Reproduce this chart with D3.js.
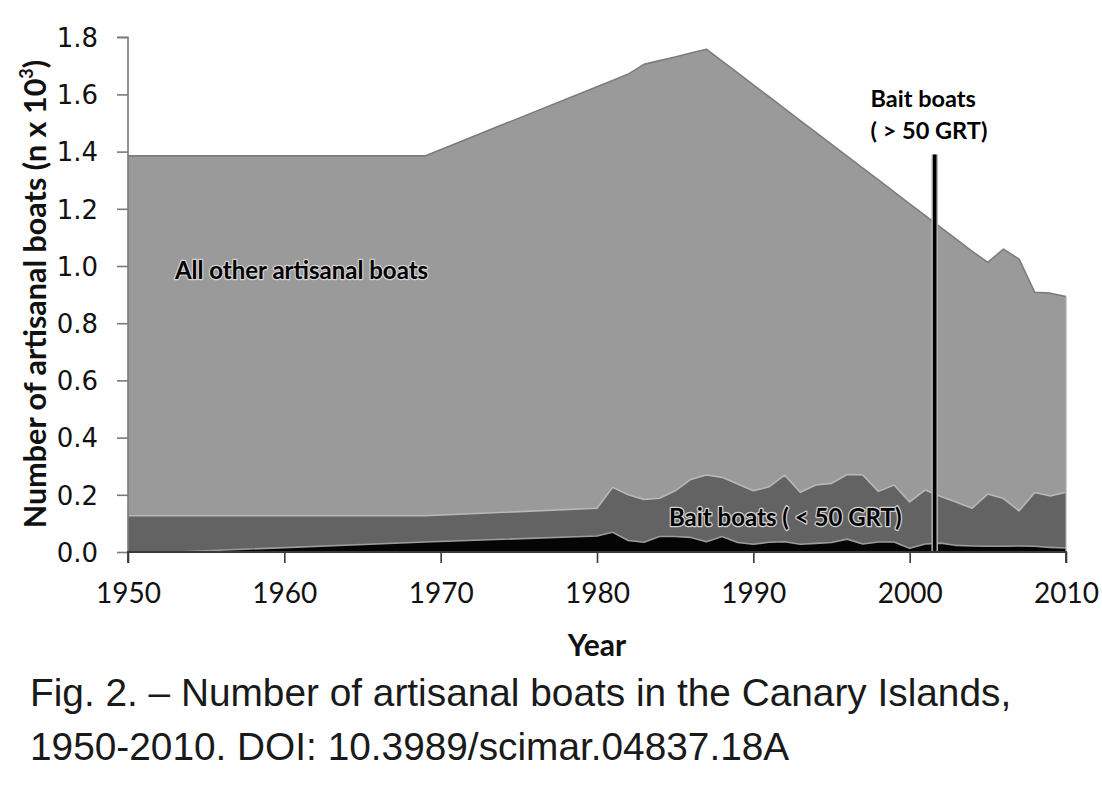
<!DOCTYPE html>
<html>
<head>
<meta charset="utf-8">
<script src="https://cdn.jsdelivr.net/npm/d3@7"></script>
<style>
  html, body { margin: 0; padding: 0; background: #fff; }
  svg { display: block; }
</style>
</head>
<body>
<svg id="chart" width="1102" height="810"></svg>
<script>
// ---------------- DATA ----------------
const years = [1950, 1953, 1969, 1980, 1981, 1982, 1983, 1984, 1985, 1986, 1987, 1988, 1989,
  1990, 1991, 1992, 1993, 1994, 1995, 1996, 1997, 1998, 1999, 2000, 2001, 2002, 2003, 2004,
  2005, 2006, 2007, 2008, 2009, 2010];
// Bait boats (> 50 GRT), n x 10^3
const baitLarge = [0, 0, 0.035, 0.056, 0.069, 0.040, 0.034, 0.054, 0.054, 0.051, 0.036, 0.054, 0.033,
  0.027, 0.034, 0.036, 0.027, 0.030, 0.033, 0.045, 0.028, 0.035, 0.035, 0.013, 0.028, 0.031, 0.023, 0.021,
  0.020, 0.020, 0.021, 0.020, 0.016, 0.014];
// Bait boats (< 50 GRT)
const baitSmall = [0.127, 0.127, 0.092, 0.097, 0.157, 0.160, 0.150, 0.134, 0.160, 0.203, 0.233, 0.207, 0.205,
  0.187, 0.194, 0.233, 0.182, 0.204, 0.207, 0.226, 0.241, 0.177, 0.199, 0.162, 0.189, 0.163, 0.151, 0.132,
  0.183, 0.167, 0.123, 0.188, 0.180, 0.195];
// All other artisanal boats
const otherBoats = [1.258, 1.258, 1.258, 1.474, 1.423, 1.471, 1.521, 1.530, 1.517, 1.491, 1.489, 1.455, 1.437,
  1.419, 1.364, 1.281, 1.299, 1.233, 1.185, 1.113, 1.073, 1.089, 1.025, 1.042, 0.959, 0.940, 0.919, 0.898,
  0.810, 0.872, 0.880, 0.700, 0.709, 0.684];
// isolated spike of bait boats (> 50 GRT)
const spikeYear = [2001.6];
const spikeValue = [1.39];

const xTicks = [1950, 1960, 1970, 1980, 1990, 2000, 2010];
const yTicks = [0, 0.2, 0.4, 0.6, 0.8, 1.0, 1.2, 1.4, 1.6, 1.8];
const seriesKeys = ["baitLarge", "baitSmall", "otherBoats"];
const seriesNames = ["( > 50 GRT)", "Bait boats ( < 50 GRT)", "All other artisanal boats"];

// ---------------- CHART ----------------
const svg = d3.select("#chart");
const x = d3.scaleLinear().domain([1950, 2010]).range([128, 1066]);
const y = d3.scaleLinear().domain([0, 1.8]).range([552, 37.2]);

const table = years.map((yr, i) => ({
  year: yr, baitLarge: baitLarge[i], baitSmall: baitSmall[i], otherBoats: otherBoats[i]
}));
const stacked = d3.stack().keys(seriesKeys)(table);

const fills = { baitLarge: "#050505", baitSmall: "#636363", otherBoats: "#9a9a9a" };
const edges = { baitLarge: "#9c9c9c", baitSmall: "#b8b8b8", otherBoats: "#7c7c7c" };

const area = d3.area()
  .x(d => x(d.data.year))
  .y0(d => y(d[0]))
  .y1(d => y(d[1]));
const topLine = d3.line()
  .x(d => x(d.data.year))
  .y(d => y(d[1]));

const g = svg.append("g");
stacked.slice().reverse().forEach(s => {
  g.append("path").attr("d", area(s)).attr("fill", fills[s.key]);
});
stacked.slice().reverse().forEach(s => {
  g.append("path").attr("d", topLine(s)).attr("fill", "none")
    .attr("stroke", edges[s.key]).attr("stroke-width", 1.6).attr("stroke-linejoin", "round");
});
const last = stacked[2][stacked[2].length - 1];
g.append("line")
  .attr("x1", x(last.data.year)).attr("x2", x(last.data.year))
  .attr("y1", y(last[1])).attr("y2", y(0))
  .attr("stroke", "#b0b0b0").attr("stroke-width", 1.2);

// spike
spikeYear.forEach((yr, i) => {
  g.append("line")
    .attr("x1", x(yr)).attr("x2", x(yr))
    .attr("y1", y(0)).attr("y2", y(spikeValue[i]))
    .attr("stroke", "#b5b5b5").attr("stroke-width", 6.5);
  g.append("line")
    .attr("x1", x(yr)).attr("x2", x(yr))
    .attr("y1", y(0)).attr("y2", y(spikeValue[i]))
    .attr("stroke", "#000").attr("stroke-width", 3.6);
});

// ---------------- AXES ----------------
const yAxis = svg.append("g").attr("transform", `translate(${x(1950)},0)`)
  .call(d3.axisLeft(y).tickValues(yTicks).tickFormat(d3.format(".1f")).tickSize(11).tickPadding(19));
yAxis.select(".domain").attr("stroke", "#7a7a7a").attr("stroke-width", 1.6)
  .attr("d", `M-11,${y(1.8)}H0V${y(0)}`);
yAxis.selectAll(".tick line").attr("stroke", "#7a7a7a").attr("stroke-width", 1.6);
yAxis.selectAll(".tick text")
  .attr("font-family", "DejaVu Sans").attr("font-size", 26).attr("fill", "#111")
  .attr("dy", "0.36em");

const xAxis = svg.append("g").attr("transform", `translate(0,${y(0)})`)
  .call(d3.axisBottom(x).tickValues(xTicks).tickFormat(d3.format("d")).tickSize(11).tickPadding(20));
xAxis.select(".domain").attr("stroke", "#3a3a3a").attr("stroke-width", 1.8)
  .attr("d", `M${x(1950)},11V0H${x(2010)}V11`);
xAxis.selectAll(".tick line").attr("stroke", "#3a3a3a").attr("stroke-width", 1.6);
xAxis.selectAll(".tick text")
  .attr("font-family", "Lato").attr("font-size", 28).attr("fill", "#111");

// axis titles
svg.append("text")
  .attr("transform", `translate(46,${(58 + 530) / 2}) rotate(-90)`)
  .attr("text-anchor", "middle")
  .attr("font-family", "Lato").attr("font-weight", "bold").attr("font-size", 30.5).attr("fill", "#111")
  .call(t => {
    t.append("tspan").text("Number of artisanal boats (n x 10");
    t.append("tspan").text("3").attr("font-size", 18).attr("dy", -13);
    t.append("tspan").text(")").attr("dy", 13);
  });

svg.append("text")
  .attr("x", (x(1950) + x(2010)) / 2).attr("y", 656)
  .attr("text-anchor", "middle")
  .attr("font-family", "Lato").attr("font-weight", "bold").attr("font-size", 30).attr("fill", "#111")
  .text("Year");

// ---------------- SERIES LABELS ----------------
function halo(sel) {
  sel.attr("font-family", "Lato").attr("font-weight", "bold").attr("fill", "#000")
    .attr("stroke", "#d2d2d2").attr("stroke-width", 2.5).attr("paint-order", "stroke")
    .attr("stroke-linejoin", "round");
}
svg.append("text").attr("x", x(1953)).attr("y", y(0.955))
  .attr("font-size", 24).call(halo).text(seriesNames[2]);
svg.append("text").attr("x", x(1984.6)).attr("y", y(0.09))
  .attr("font-size", 24).call(halo).text(seriesNames[1]);

const lbl = svg.append("text").attr("font-family", "Lato").attr("font-weight", "bold")
  .attr("font-size", 23.5).attr("fill", "#000");
lbl.append("tspan").attr("x", x(1997.5)).attr("y", 107).text("Bait boats");
lbl.append("tspan").attr("x", x(1997.5)).attr("y", 139).text(seriesNames[0]);

// ---------------- CAPTION ----------------
const cap = svg.append("text").attr("font-family", "Liberation Sans").attr("font-size", 38.8).attr("fill", "#1a1a1a");
cap.append("tspan").attr("x", 30).attr("y", 706).text("Fig. 2. \u2013 Number of artisanal boats in the Canary Islands,");
cap.append("tspan").attr("x", 30).attr("y", 760).text("1950-2010. DOI: 10.3989/scimar.04837.18A");
</script>
</body>
</html>
